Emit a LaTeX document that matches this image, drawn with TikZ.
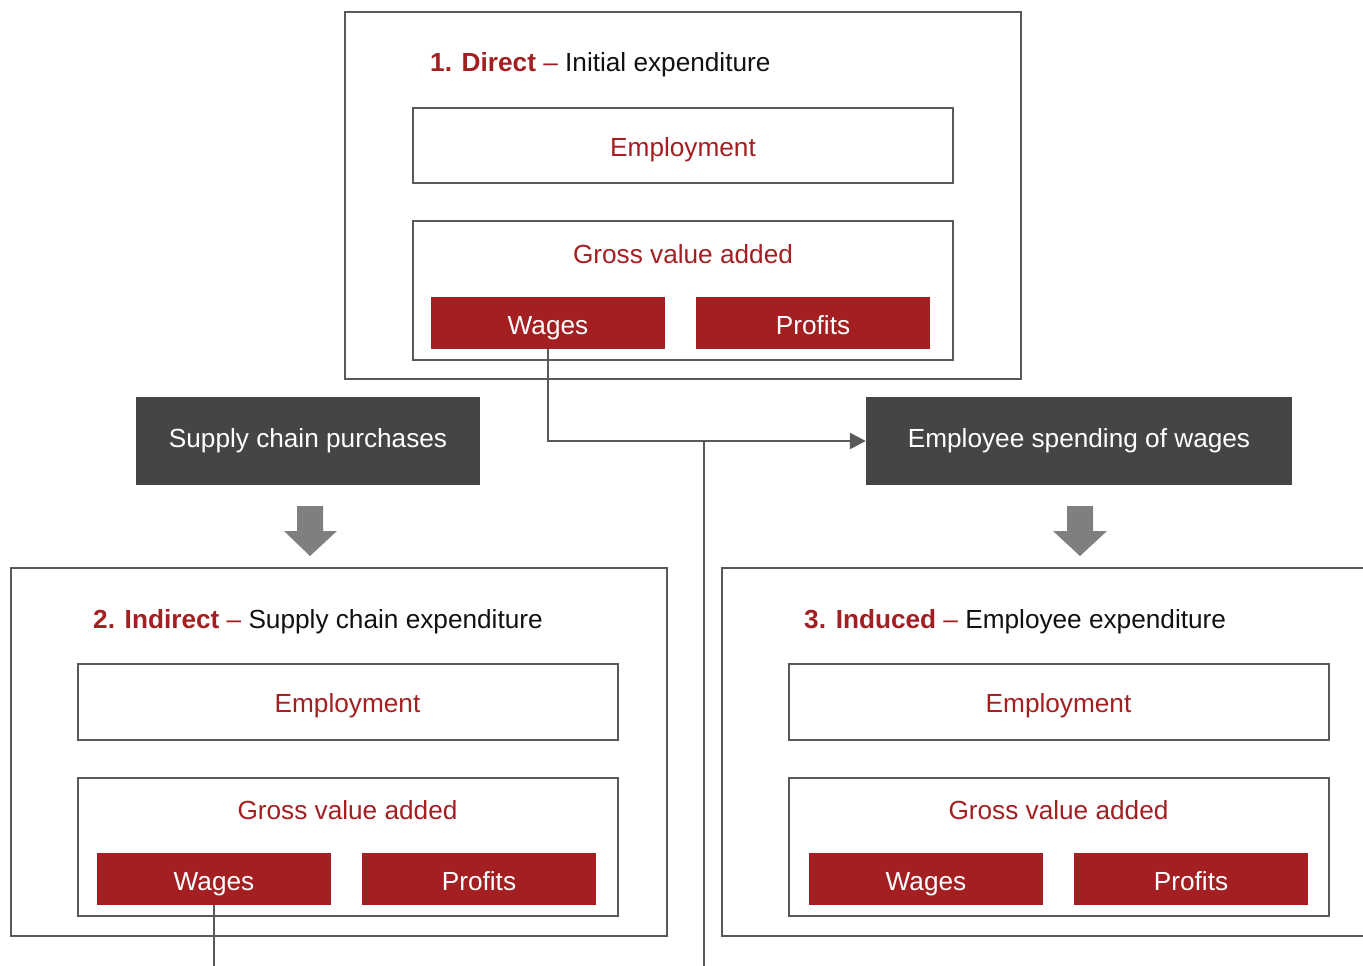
\documentclass[tikz,border=0pt]{standalone}
\usepackage{fontspec}
\setmainfont{Liberation Sans}
\usetikzlibrary{arrows.meta}
\definecolor{pwcred}{HTML}{A31F21}
\definecolor{darkbox}{HTML}{454545}
\definecolor{linegray}{HTML}{595959}
\definecolor{arrowgray}{HTML}{7F7F7F}
\definecolor{txt}{HTML}{111111}
\begin{document}
\begin{tikzpicture}[x=1pt,y=-1pt,
  every node/.style={font=\fontsize{26.2}{30}\selectfont},
  outerbox/.style={draw=linegray,line width=2pt,fill=white,inner sep=0pt},
  innerbox/.style={draw=linegray,line width=2pt,fill=white,inner sep=0pt,minimum width=540pt},
  redbox/.style={fill=pwcred,text=white,inner sep=0pt,minimum width=234pt,minimum height=52pt,text height=22pt,text depth=0pt},
  greybox/.style={fill=darkbox,text=white,inner sep=0pt,minimum height=88pt,text height=20pt,text depth=8pt},
  redtxt/.style={text=pwcred,inner sep=0pt,anchor=base},
  titletxt/.style={text=txt,inner sep=0pt,anchor=base west},
  conn/.style={draw=linegray,line width=2.6pt},
  blockarrow/.style={fill=arrowgray}
]
\useasboundingbox (0,0) rectangle (1363,966);
\clip (0,0) rectangle (1363,966);

% ---------- Box 1 : Direct ----------
\node[outerbox,minimum width=676pt,minimum height=367pt] (b1) at (683,195.5) {};
\node[titletxt] (t1) at (430,72) {\textcolor{pwcred}{\textbf{1. Direct}} \textcolor{pwcred}{–} Initial expenditure};
\node[innerbox,minimum height=75pt] (e1) at (683,145.5) {};
\node[redtxt] (e1t) at (683,156) {Employment};
\node[innerbox,minimum height=139pt] (g1) at (683,290.5) {};
\node[redtxt] (g1t) at (683,263) {Gross value added};
\node[redbox] (w1) at (548,323) {Wages};
\node[redbox] (p1) at (813,323) {Profits};

% ---------- Grey labels ----------
\node[greybox,minimum width=344pt] (scp) at (308,441) {Supply chain purchases};
\node[greybox,minimum width=426pt] (esp) at (1079,441) {Employee spending of wages};

% ---------- Block arrows ----------
\fill[blockarrow] (297,506) -- (323,506) -- (323,531) -- (337,531) -- (310,556) -- (284,531) -- (297,531) -- cycle;
\fill[blockarrow] (1067,506) -- (1093,506) -- (1093,531) -- (1107,531) -- (1080,556) -- (1053,531) -- (1067,531) -- cycle;

% ---------- Box 2 : Indirect ----------
\node[outerbox,minimum width=656pt,minimum height=368pt] (b2) at (339,752) {};
\node[titletxt] (t2) at (93,628) {\textcolor{pwcred}{\textbf{2. Indirect}} \textcolor{pwcred}{–} Supply chain expenditure};
\node[innerbox,minimum height=76pt] (e2) at (347.5,702) {};
\node[redtxt] (e2t) at (347.5,712) {Employment};
\node[innerbox,minimum height=138pt] (g2) at (347.5,847) {};
\node[redtxt] (g2t) at (347.5,819) {Gross value added};
\node[redbox] (w2) at (214,879) {Wages};
\node[redbox] (p2) at (479,879) {Profits};

% ---------- Box 3 : Induced ----------
\node[outerbox,minimum width=680pt,minimum height=368pt] (b3) at (1062,752) {};
\node[titletxt] (t3) at (804,628) {\textcolor{pwcred}{\textbf{3. Induced}} \textcolor{pwcred}{–} Employee expenditure};
\node[innerbox,minimum height=76pt] (e3) at (1058.5,702) {};
\node[redtxt] (e3t) at (1058.5,712) {Employment};
\node[innerbox,minimum height=138pt] (g3) at (1058.5,847) {};
\node[redtxt] (g3t) at (1058.5,819) {Gross value added};
\node[redbox] (w3) at (926,879) {Wages};
\node[redbox] (p3) at (1191,879) {Profits};

% ---------- Connectors ----------
\coordinate (j) at (704,441);
\coordinate (jb) at (704,966);
\coordinate (w2b) at (214,966);
\draw[conn,-{Triangle[length=16pt,width=16pt]}] (w1.south) |- (esp.west);
\draw[conn] (j) -- (jb);
\draw[conn] (w2.south) -- (w2b);
\end{tikzpicture}
\end{document}
